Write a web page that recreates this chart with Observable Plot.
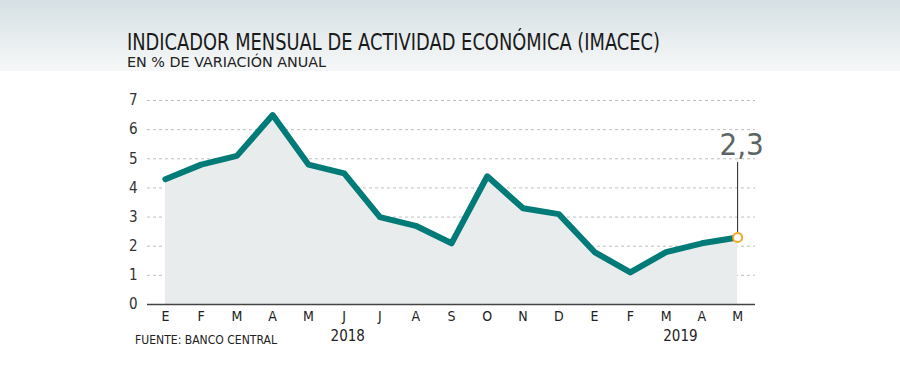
<!DOCTYPE html>
<html><head><meta charset="utf-8">
<script src="https://cdn.jsdelivr.net/npm/d3@7"></script>
<script src="https://cdn.jsdelivr.net/npm/@observablehq/plot@0.6"></script>
<style>
html,body{margin:0;padding:0;background:#fff;}
#wrap{position:relative;width:900px;height:388px;overflow:hidden;font-family:"DejaVu Sans Condensed","Liberation Sans Narrow",sans-serif;}
#bg{position:absolute;left:0;top:0;width:900px;height:71px;background:linear-gradient(#d6e0e4,#f6f8f8);}
#title{position:absolute;left:127px;top:29px;font-size:23px;color:#1a1a1a;white-space:nowrap;transform-origin:0 0;}
#sub{position:absolute;left:127px;top:54px;font-size:14px;color:#222;white-space:nowrap;transform-origin:0 0;}
#src{position:absolute;left:135px;top:333px;font-size:12px;color:#222;white-space:nowrap;transform-origin:0 0;}
#chart{position:absolute;left:0;top:0;}
</style></head>
<body><div id="wrap"><div id="bg"></div><div id="chart"></div>
<div id="title">INDICADOR MENSUAL DE ACTIVIDAD ECONÓMICA (IMACEC)</div>
<div id="sub">EN % DE VARIACIÓN ANUAL</div>
<div id="src">FUENTE: BANCO CENTRAL</div>
</div>
<script>
const months = ["E","F","M","A","M","J","J","A","S","O","N","D","E","F","M","A","M"];
const values = [4.3,4.8,5.1,6.5,4.8,4.5,3.0,2.7,2.1,4.4,3.3,3.1,1.8,1.1,1.8,2.1,2.3];
const years = ["2018","2019"];
const yearPos = [5.1,14.4];
const yTicks = [0,1,2,3,4,5,6,7];
const lastLabel = "2,3";

function fit(id, w){
  const el = document.getElementById(id);
  const cur = el.getBoundingClientRect().width;
  el.style.transform = `scaleX(${w/cur})`;
}
fit("title", 533);
fit("sub", 199);
fit("src", 142);

const data = values.map((v,i)=>({i,v,m:months[i]}));
const last = data[data.length-1];
const font = '"DejaVu Sans Condensed","Liberation Sans Narrow",sans-serif';

const chart = Plot.plot({
  width:900, height:388,
  marginLeft:147, marginRight:145, marginTop:100, marginBottom:84,
  style:{background:"transparent", fontFamily:font, overflow:"visible"},
  x:{type:"linear", domain:[-0.5, months.length-0.5], label:null},
  y:{domain:[0,7], label:null},
  marks:[
    Plot.gridY(yTicks.filter(t=>t>0), {stroke:"#999", strokeOpacity:0.8, strokeDasharray:"3,3", strokeWidth:0.8}),
    Plot.areaY(data, {x:"i", y:"v", fill:"#e8ecec"}),
    Plot.ruleY([0], {stroke:"#444", strokeWidth:1.5}),
    Plot.axisX({ticks:d3.range(months.length), tickFormat:i=>months[i], tickSize:0, tickPadding:7, fontSize:14, fill:"#222"}),
    Plot.axisY({ticks:yTicks, tickFormat:d=>String(d), tickSize:0, tickPadding:10, fontSize:15, fill:"#333"}),
    Plot.lineY(data, {x:"i", y:"v", stroke:"#007b78", strokeWidth:6, strokeLinejoin:"round"}),
    Plot.ruleX([last], {x:"i", y1:"v", y2:4.7, stroke:"#222", strokeWidth:1, dy:-5}),
    Plot.dot([last], {x:"i", y:"v", r:4.5, fill:"#fff", stroke:"#f5a623", strokeWidth:2}),
    Plot.text([last], {x:"i", y:5.2, text:()=>lastLabel, fontSize:31, fill:"#5b6565", textAnchor:"middle", dx:4, dy:-8}),
    Plot.text(years, {x:(d,k)=>yearPos[k], frameAnchor:"bottom", dy:36, text:d=>d, fontSize:15, fill:"#222"})
  ]
});
document.getElementById("chart").appendChild(chart);
</script></body></html>
